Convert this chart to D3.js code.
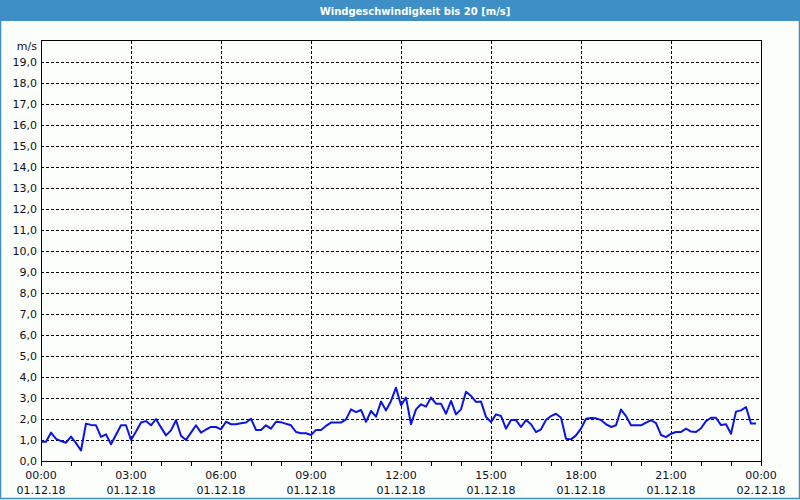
<!DOCTYPE html>
<html>
<head>
<meta charset="utf-8">
<script src="https://cdn.jsdelivr.net/npm/d3@7"></script>
<style>
html,body{margin:0;padding:0;background:#fcfefc;}
svg{display:block;}
text{font-family:"DejaVu Sans",Verdana,sans-serif;}
</style>
</head>
<body>
<svg id="chart" width="800" height="500"></svg>
<script>
const title = "Windgeschwindigkeit bis 20 [m/s]";
const unitLabel = "m/s";
const startTime = "2018-12-01T00:00";
const stepMinutes = 10;
// wind speed [m/s], one value every 10 minutes from 00:00
const windSpeed = [
  0.92,0.92,1.35,1.05,0.95,0.87,1.16,0.85,0.50,1.78,
  1.72,1.70,1.15,1.27,0.80,1.25,1.70,1.70,1.00,1.40,
  1.83,1.90,1.70,2.00,1.60,1.22,1.46,1.94,1.20,1.00,
  1.35,1.70,1.35,1.50,1.62,1.62,1.51,1.87,1.75,1.75,
  1.80,1.83,2.01,1.48,1.48,1.70,1.54,1.87,1.85,1.77,
  1.70,1.38,1.32,1.32,1.24,1.48,1.48,1.67,1.83,1.83,
  1.83,1.98,2.46,2.33,2.43,1.86,2.38,2.11,2.83,2.41,
  2.86,3.49,2.65,3.02,1.75,2.46,2.70,2.59,3.02,2.73,
  2.73,2.25,2.86,2.22,2.46,3.30,3.10,2.81,2.83,2.10,
  1.86,2.22,2.14,1.54,1.95,1.95,1.62,1.95,1.75,1.38,
  1.51,1.95,2.14,2.25,2.06,1.06,1.03,1.22,1.54,2.01,
  2.05,2.03,1.95,1.75,1.62,1.70,2.45,2.14,1.70,1.70,
  1.70,1.83,1.94,1.80,1.24,1.14,1.30,1.38,1.38,1.54,
  1.40,1.38,1.56,1.90,2.06,2.06,1.71,1.75,1.30,2.35,
  2.41,2.57,1.78,1.78
];
const yTicks = [0,1,2,3,4,5,6,7,8,9,10,11,12,13,14,15,16,17,18,19];
const xTickTimes = ["00:00","03:00","06:00","09:00","12:00","15:00","18:00","21:00","00:00"];
const xTickDates = ["01.12.18","01.12.18","01.12.18","01.12.18","01.12.18","01.12.18","01.12.18","01.12.18","02.12.18"];

const W = 800, H = 500;
const m = {left:41, right:761, top:41, bottom:461};
const svg = d3.select("#chart");

const t0 = new Date(startTime);
const t1 = d3.timeHour.offset(t0, 24);
const x = d3.scaleTime().domain([t0, t1]).range([m.left, m.right]);
const y = d3.scaleLinear().domain([0, 20]).range([m.bottom, m.top]);

const data = windSpeed.map((v,i)=>({t:d3.timeMinute.offset(t0, i*stepMinutes), v}));

// background
svg.append("rect").attr("x",0).attr("y",0).attr("width",W).attr("height",H).attr("fill","#fcfefc");
// title bar
svg.append("rect").attr("x",0).attr("y",0).attr("width",W).attr("height",21).attr("fill","#3d8fc6");
svg.append("text").attr("x",415).attr("y",14.5).attr("text-anchor","middle")
  .attr("fill","#ffffff").attr("font-weight","bold").attr("font-size","10px").text(title);
// window border
svg.append("rect").attr("x",0.5).attr("y",0.5).attr("width",W-1).attr("height",H-2)
  .attr("fill","none").attr("stroke","#3d8fc6").attr("stroke-width",1.5);

// horizontal grid
svg.append("g").selectAll("line").data(yTicks.filter(d=>d>0)).join("line")
  .attr("x1",m.left).attr("x2",m.right)
  .attr("y1",d=>Math.round(y(d))+0.5).attr("y2",d=>Math.round(y(d))+0.5)
  .attr("stroke","#000").attr("stroke-width",1).attr("stroke-dasharray","3,2");

// vertical grid every 3 h
const gridTimes = d3.range(1,8).map(h=>d3.timeHour.offset(t0, h*3));
svg.append("g").selectAll("line").data(gridTimes).join("line")
  .attr("x1",d=>Math.round(x(d))+0.5).attr("x2",d=>Math.round(x(d))+0.5)
  .attr("y1",m.top).attr("y2",m.bottom)
  .attr("stroke","#000").attr("stroke-width",1).attr("stroke-dasharray","3,2");

// hourly ticks below the axis
const hourTimes = d3.range(0,25).map(h=>d3.timeHour.offset(t0, h));
svg.append("g").selectAll("line").data(hourTimes).join("line")
  .attr("x1",d=>Math.round(x(d))+0.5).attr("x2",d=>Math.round(x(d))+0.5)
  .attr("y1",m.bottom).attr("y2",m.bottom+5)
  .attr("stroke","#000").attr("stroke-width",1);

// plot frame
svg.append("rect").attr("x",m.left+0.5).attr("y",m.top-0.5)
  .attr("width",m.right-m.left).attr("height",m.bottom-m.top+1)
  .attr("fill","none").attr("stroke","#000").attr("stroke-width",1);

// y labels
svg.append("g").selectAll("text").data(yTicks).join("text")
  .attr("x",37).attr("y",d=>y(d)+4).attr("text-anchor","end")
  .attr("font-size","11px").attr("fill","#101020")
  .text(d=>d.toFixed(1).replace(".",","));
svg.append("text").attr("x",37).attr("y",50).attr("text-anchor","end")
  .attr("font-size","11px").attr("fill","#101020").text(unitLabel);

// x labels
const labTimes = d3.range(0,9).map(i=>d3.timeHour.offset(t0, i*3));
const xl = svg.append("g").selectAll("g").data(labTimes).join("g")
  .attr("transform",d=>`translate(${x(d)},0)`);
xl.append("text").attr("y",479).attr("text-anchor","middle").attr("font-size","11px")
  .attr("fill","#101020").text((d,i)=>xTickTimes[i]);
xl.append("text").attr("y",494).attr("text-anchor","middle").attr("font-size","11px")
  .attr("fill","#101020").text((d,i)=>xTickDates[i]);

// data line
const line = d3.line().x(d=>x(d.t)).y(d=>y(d.v));
svg.append("path").datum(data).attr("d",line)
  .attr("fill","none").attr("stroke","#0a14e6").attr("stroke-width",2)
  .attr("stroke-linejoin","round");
</script>
</body>
</html>
